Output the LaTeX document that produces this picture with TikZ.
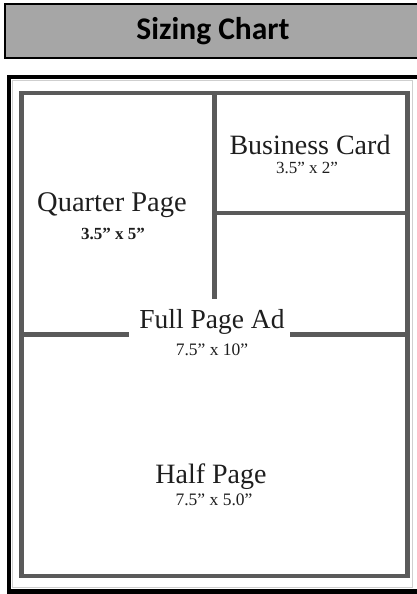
\documentclass[tikz,border=0pt]{standalone}
\usepackage{fontspec}
\setmainfont{Liberation Serif}
\newfontfamily\titlefont{Carlito}
\definecolor{titlegray}{HTML}{A6A6A6}
\definecolor{linegray}{HTML}{5A5A5A}
\definecolor{thingray}{HTML}{CFCFCF}
\definecolor{txt}{HTML}{1E1E1E}
\begin{document}
\begin{tikzpicture}[x=1pt,y=-1pt,
  divider/.style={draw=linegray,line width=5pt},
  lbl/.style={inner sep=0pt,text=txt,anchor=center},
  title/.style={inner sep=0pt,text=black,anchor=center,font=\titlefont\bfseries\fontsize{31.5}{36}\selectfont},
  big/.style={lbl,font=\fontsize{27}{30}\selectfont},
  small/.style={lbl,font=\fontsize{17.5}{20}\selectfont}]
\useasboundingbox (0,0) rectangle (417,594);
% title bar
\draw[fill=titlegray,line width=2pt] (5,4) rectangle (425,58);
\node[title] (t) at (213,31) {Sizing Chart};
% outer black frame
\draw[line width=4pt] (9,77) -- (425,77);
\draw[line width=4pt] (9,75) -- (9,594);
\draw[line width=5pt] (7,591.5) -- (425,591.5);
\draw[thingray,line width=0.8pt] (12.5,80) rectangle (412.5,587.5);
% gray page frame
\draw[draw=linegray,line width=4.5pt] (21.5,93) rectangle (407.5,576);
% dividers
\coordinate (vtop) at (214.5,93);
\coordinate (vbot) at (214.5,299);
\coordinate (bcl) at (214.5,213);
\coordinate (bcr) at (407.5,213);
\coordinate (fl1) at (21.5,334.5);
\coordinate (fl2) at (129,334.5);
\coordinate (fr1) at (290,334.5);
\coordinate (fr2) at (407.5,334.5);
\draw[divider] (vtop) -- (vbot);
\draw[divider,line width=4pt] (bcl) -- (bcr);
\draw[divider] (fl1) -- (fl2);
\draw[divider] (fr1) -- (fr2);
% labels
\node[big,font=\fontsize{28}{30}\selectfont] (bc) at (310,145) {Business Card};
\node[small,font=\fontsize{17}{20}\selectfont] (bcs) at (307,168) {3.5'' x 2''};
\node[big,font=\fontsize{28.5}{30}\selectfont] (qp) at (112,205) {Quarter Page};
\node[small,font=\bfseries\fontsize{17}{20}\selectfont] (qps) at (113,234) {3.5'' x 5''};
\node[big,font=\fontsize{27.5}{30}\selectfont] (fp) at (212,322) {Full Page Ad};
\node[small] (fps) at (212,350) {7.5'' x 10''};
\node[big,font=\fontsize{28}{30}\selectfont] (hp) at (211,477) {Half Page};
\node[small] (hps) at (214,500) {7.5'' x 5.0''};
\end{tikzpicture}
\end{document}
